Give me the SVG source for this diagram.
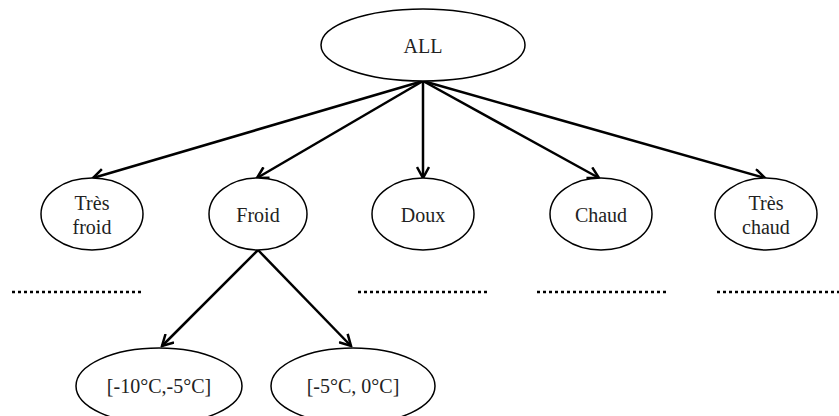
<svg xmlns="http://www.w3.org/2000/svg" width="839" height="416" viewBox="0 0 839 416">
<defs>
<style>
.node ellipse{fill:#fff;stroke:#000;stroke-width:1.5}
.node text{font-family:"Liberation Serif","Times New Roman",serif;font-size:20px;fill:#222;text-anchor:middle}
.edge{stroke:#000;stroke-width:2.5;fill:none;marker-end:url(#arr)}
.dots{stroke:#000;stroke-width:2.5;stroke-dasharray:3 3}
</style>
<marker id="arr" viewBox="0 0 14 14" refX="12" refY="7" markerWidth="14" markerHeight="14" markerUnits="userSpaceOnUse" orient="auto">
<path d="M1,1 L12,7 L1,13" fill="none" stroke="#000" stroke-width="2.5"/>
</marker>
</defs>
<rect width="839" height="416" fill="#fff"/>
<g id="connectors">
<line class="edge" x1="423" y1="81" x2="93" y2="178"/>
<line class="edge" x1="423" y1="81" x2="257" y2="178"/>
<line class="edge" x1="423" y1="81" x2="423" y2="178"/>
<line class="edge" x1="423" y1="81" x2="599" y2="178"/>
<line class="edge" x1="423" y1="81" x2="765" y2="178"/>
<line class="edge" x1="258" y1="250" x2="162" y2="346"/>
<line class="edge" x1="258" y1="250" x2="351" y2="346"/>
</g>
<g id="dotted">
<line class="dots" x1="12" y1="292" x2="143" y2="292"/>
<line class="dots" x1="358" y1="292" x2="490" y2="292"/>
<line class="dots" x1="537" y1="292" x2="667" y2="292"/>
<line class="dots" x1="717" y1="292" x2="839" y2="292"/>
</g>
<g id="node-all" class="node"><ellipse cx="423" cy="45" rx="102" ry="36"/><text x="423" y="53">ALL</text></g>
<g id="node-tres-froid" class="node"><ellipse cx="92" cy="214" rx="51" ry="36"/><text x="92" y="210">Très</text><text x="92" y="234">froid</text></g>
<g id="node-froid" class="node"><ellipse cx="258" cy="214" rx="49" ry="36"/><text x="258" y="222">Froid</text></g>
<g id="node-doux" class="node"><ellipse cx="423" cy="214" rx="51" ry="36"/><text x="423" y="222">Doux</text></g>
<g id="node-chaud" class="node"><ellipse cx="601" cy="214" rx="51" ry="36"/><text x="601" y="222">Chaud</text></g>
<g id="node-tres-chaud" class="node"><ellipse cx="766" cy="214" rx="51" ry="36"/><text x="766" y="210">Très</text><text x="766" y="234">chaud</text></g>
<g id="node-m10-m5" class="node"><ellipse cx="159" cy="386" rx="83" ry="38"/><text x="159" y="393">[-10°C,-5°C]</text></g>
<g id="node-m5-0" class="node"><ellipse cx="353" cy="386" rx="82" ry="38"/><text x="353" y="393">[-5°C, 0°C]</text></g>
</svg>
